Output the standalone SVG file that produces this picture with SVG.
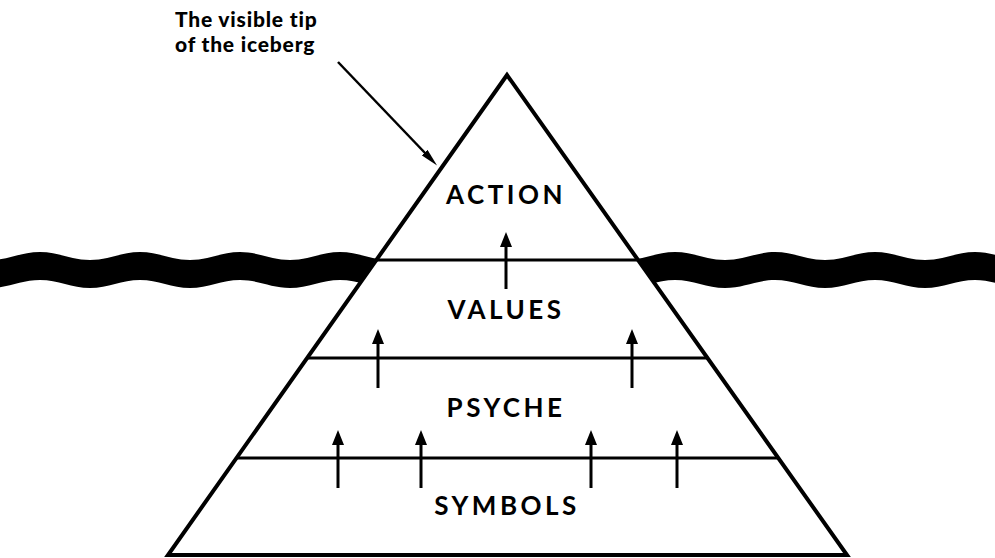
<svg xmlns="http://www.w3.org/2000/svg" width="995" height="558" viewBox="0 0 995 558">
<style>
.lbl{font-family:Lato,"Open Sans","Liberation Sans",sans-serif;font-weight:bold;font-size:26px;letter-spacing:3.5px;fill:#000;text-anchor:middle}
.ttl{font-family:Lato,"Open Sans","Liberation Sans",sans-serif;font-weight:900;font-size:21px;letter-spacing:0.8px;fill:#000}
.ln{stroke:#000;stroke-width:3;fill:none}
.ar{stroke:#000;stroke-width:3;fill:none}
</style>
<defs>
<marker id="ah" viewBox="0 0 15 12" refX="1" refY="6" markerWidth="15" markerHeight="12" markerUnits="userSpaceOnUse" orient="auto">
<path d="M0 0 L15 6 L0 12 Z" fill="#000"/>
</marker>
<marker id="lead" viewBox="0 0 18 8" refX="2" refY="4" markerWidth="18" markerHeight="8" markerUnits="userSpaceOnUse" orient="auto">
<path d="M0 0 L18 4 L0 8 Z" fill="#000"/>
</marker>
</defs>
<g id="sea">
<path d="M-60 252 C-41.8 252 -28.2 260 -10 260 S21.8 252 40 252 S71.8 260 90 260 S121.8 252 140 252 S171.8 260 190 260 S221.8 252 240 252 S271.8 260 290 260 S321.8 252 340 252 S371.8 260 390 260 S421.8 252 440 252 L440 280 C421.8 280 408.2 288 390 288 S358.2 280 340 280 S308.2 288 290 288 S258.2 280 240 280 S208.2 288 190 288 S158.2 280 140 280 S108.2 288 90 288 S58.2 280 40 280 S8.2 288 -10 288 S-41.8 280 -60 280 Z" fill="#000"/>
<path d="M575 252 C593.2 252 606.8 260 625 260 S656.8 252 675 252 S706.8 260 725 260 S756.8 252 775 252 S806.8 260 825 260 S856.8 252 875 252 S906.8 260 925 260 S956.8 252 975 252 S1006.8 260 1025 260 L1025 288 C1006.8 288 993.2 280 975 280 S943.2 288 925 288 S893.2 280 875 280 S843.2 288 825 288 S793.2 280 775 280 S743.2 288 725 288 S693.2 280 675 280 S643.2 288 625 288 S593.2 280 575 280 Z" fill="#000"/>
</g>
<g id="pyramid">
<polygon points="507,75 168,555 847,555" fill="#fff" stroke="#000" stroke-width="4" stroke-linejoin="miter"/>
</g>
<g id="levels">
<line class="ln" x1="376" y1="260" x2="638" y2="260"/>
<line class="ln" x1="307" y1="358" x2="708" y2="358"/>
<line class="ln" x1="236" y1="458" x2="778" y2="458"/>
</g>
<g id="action"><text class="lbl" x="506" y="204">ACTION</text></g>
<g id="values"><text class="lbl" x="506" y="319">VALUES</text></g>
<g id="psyche"><text class="lbl" x="506" y="417">PSYCHE</text></g>
<g id="symbols"><text class="lbl" x="507" y="515">SYMBOLS</text></g>
<g id="caption">
<text class="ttl" x="175" y="27">The visible tip</text>
<text class="ttl" x="175" y="52">of the iceberg</text>
</g>
<g id="connectors">
<line class="ar" x1="506" y1="289" x2="506" y2="246" marker-end="url(#ah)"/>
<line class="ar" x1="378" y1="388" x2="378" y2="343" marker-end="url(#ah)"/>
<line class="ar" x1="632" y1="388" x2="632" y2="343" marker-end="url(#ah)"/>
<line class="ar" x1="338" y1="488" x2="338" y2="444" marker-end="url(#ah)"/>
<line class="ar" x1="421" y1="488" x2="421" y2="444" marker-end="url(#ah)"/>
<line class="ar" x1="591" y1="488" x2="591" y2="444" marker-end="url(#ah)"/>
<line class="ar" x1="677" y1="488" x2="677" y2="444" marker-end="url(#ah)"/>
<line stroke="#000" stroke-width="2.5" x1="338" y1="62" x2="426" y2="154" marker-end="url(#lead)"/>
</g>
</svg>
